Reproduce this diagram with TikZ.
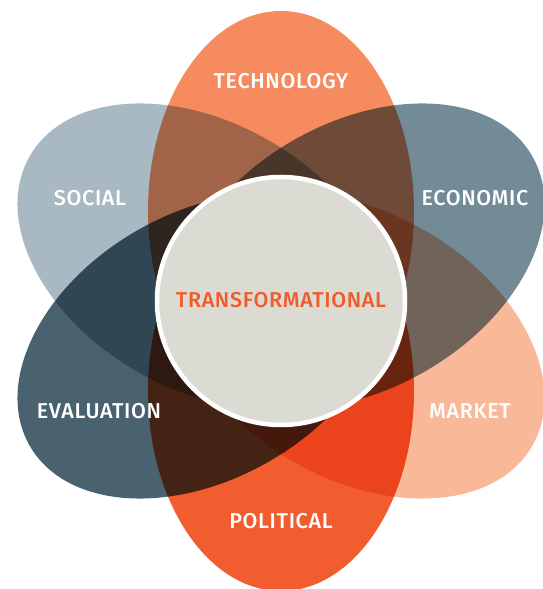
\documentclass[tikz,border=0pt]{standalone}
\usepackage{fontspec}
\setmainfont{Fira Sans}
\newfontfamily\labelfont[LetterSpace=3]{Fira Sans Medium}
\definecolor{techc}{HTML}{F68B5F}
\definecolor{socialc}{HTML}{A8B9C3}
\definecolor{econc}{HTML}{738B97}
\definecolor{marketc}{HTML}{F9B999}
\definecolor{polc}{HTML}{F15D2E}
\definecolor{evalc}{HTML}{4A6170}
\definecolor{corec}{HTML}{DCDBD3}
\definecolor{coretext}{HTML}{F15A29}
\tikzset{
  petallabel/.style={text=white, font=\labelfont\fontsize{21.5}{21.5}\selectfont, inner sep=0pt},
  corelabel/.style={text=coretext, font=\labelfont\fontsize{21.5}{21.5}\selectfont, inner sep=0pt},
  core/.style={circle, fill=corec, draw=white, line width=4.5pt, minimum size=248pt, inner sep=0pt},
}
\begin{document}
\begin{tikzpicture}[x=1pt,y=1pt]
\useasboundingbox (0,0) rectangle (542,589);
\clip (0,0) rectangle (542,589);
\fill[white] (0,0) rectangle (542,589);
\begin{scope}[blend group=multiply]
  \foreach \ang/\col in {90/techc, 30/econc, -30/marketc, -90/polc, 210/evalc, 150/socialc}{
    \begin{scope}[shift={(281,288)}, rotate=\ang]
      \fill[\col] (90,0) ellipse [x radius=200, y radius=133];
    \end{scope}
  }
\end{scope}
\node[core] (core) at (281,288) {};
\node[corelabel] (trans) at (281,289) {TRANSFORMATIONAL};
\node[petallabel] (tech) at (281,508) {TECHNOLOGY};
\node[petallabel] (social) at (90,391) {SOCIAL};
\node[petallabel] (econ) at (475,391) {ECONOMIC};
\node[petallabel] (eval) at (99,178) {EVALUATION};
\node[petallabel] (market) at (470,178) {MARKET};
\node[petallabel] (pol) at (281,68) {POLITICAL};
\end{tikzpicture}
\end{document}
